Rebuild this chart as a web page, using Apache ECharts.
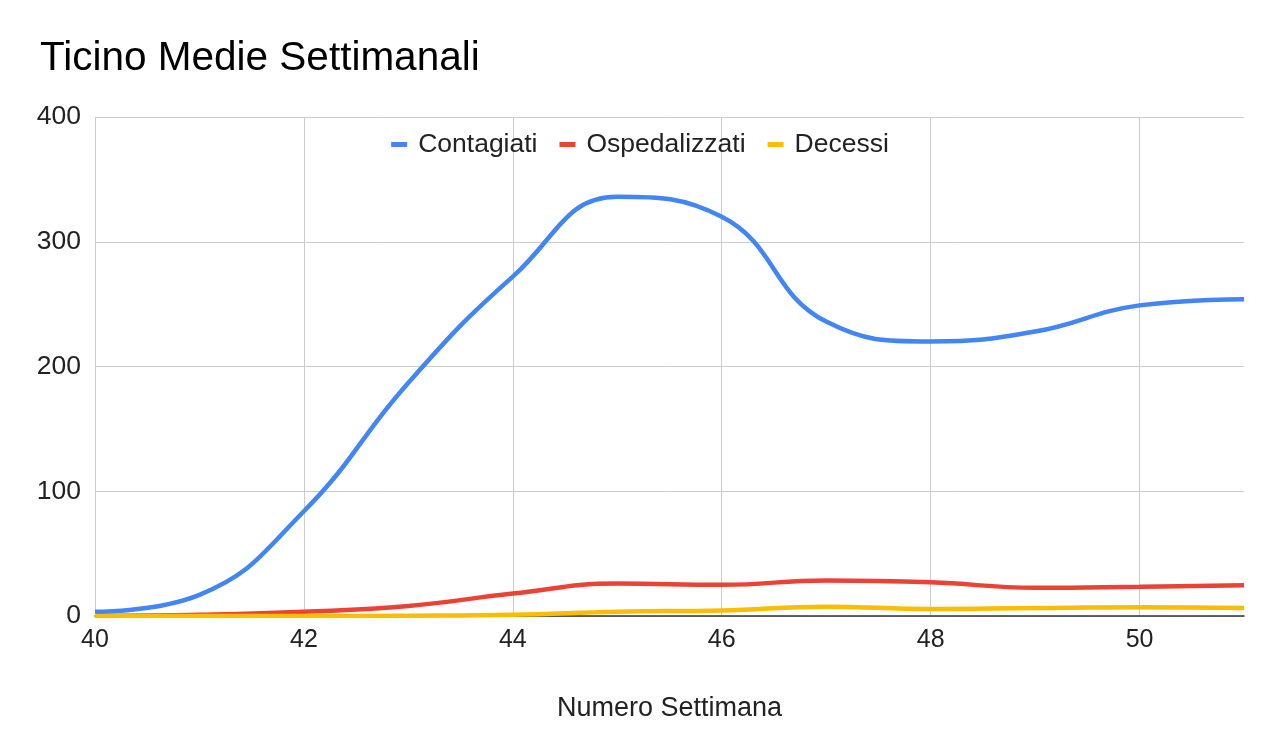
<!DOCTYPE html>
<html>
<head>
<meta charset="utf-8">
<script src="https://cdn.jsdelivr.net/npm/echarts@6/dist/echarts.min.js"></script>
<style>
  html, body { margin: 0; padding: 0; background: #fff; }
  #chart { width: 1280px; height: 756px; }
</style>
</head>
<body>
<div id="chart"></div>
<script>
const weeks = ['40','41','42','43','44','45','46','47','48','49','50','51'];
const contagiati = [3.4, 17, 84, 187, 272, 336, 320, 236, 220, 228, 249, 254];
const ospedalizzati = [0, 1, 3.4, 8, 18, 26, 25, 28.5, 27, 22.7, 23.5, 24.6];
const decessi = [0, 0, 0, 0.3, 1, 3.5, 4.5, 7.5, 5.6, 6.4, 7, 6.4];
const yTicks = [0, 100, 200, 300, 400];

const FONT = '"Liberation Sans", Arial, sans-serif';
const chart = echarts.init(document.getElementById('chart'));
const mk = (name, data, color) => ({
  name, type: 'line', data, smooth: 0.45, showSymbol: false, symbol: 'none',
  lineStyle: { width: 4.5, color }, itemStyle: { color }
});
chart.setOption({
  animation: false,
  backgroundColor: '#ffffff',
  title: {
    text: 'Ticino Medie Settimanali', left: 35, top: 33,
    textStyle: { fontFamily: FONT, fontSize: 40.5, fontWeight: 'normal', color: '#000' }
  },
  legend: {
    top: 126, left: 'center', icon: 'rect', itemWidth: 16, itemHeight: 5, itemGap: 22,
    textStyle: { fontFamily: FONT, fontSize: 26.5, color: '#222', padding: [0, 0, 0, 6] }
  },
  grid: { left: 95, right: 36, top: 117, bottom: 140, containLabel: false },
  xAxis: {
    type: 'category', data: weeks, boundaryGap: false,
    name: 'Numero Settimana', nameLocation: 'middle', nameGap: 79,
    nameTextStyle: { fontFamily: FONT, fontSize: 27, color: '#222' },
    axisLine: { show: true, lineStyle: { color: '#333', width: 1.5 } },
    axisTick: { show: false },
    axisLabel: {
      interval: (i) => i % 2 === 0, margin: 12,
      fontFamily: FONT, fontSize: 25, color: '#222'
    },
    splitLine: { show: true, interval: (i) => i % 2 === 0 && i < weeks.length - 1, lineStyle: { color: '#ccc', width: 1 } }
  },
  yAxis: {
    type: 'value', min: yTicks[0], max: yTicks[yTicks.length - 1], interval: 100,
    axisLine: { show: false }, axisTick: { show: false },
    axisLabel: { margin: 14, fontFamily: FONT, fontSize: 26.5, color: '#222' },
    splitLine: { lineStyle: { color: '#ccc', width: 1 } }
  },
  series: [
    mk('Contagiati', contagiati, '#4285F4'),
    mk('Ospedalizzati', ospedalizzati, '#EA4335'),
    mk('Decessi', decessi, '#FBBC04')
  ]
});
</script>
</body>
</html>
